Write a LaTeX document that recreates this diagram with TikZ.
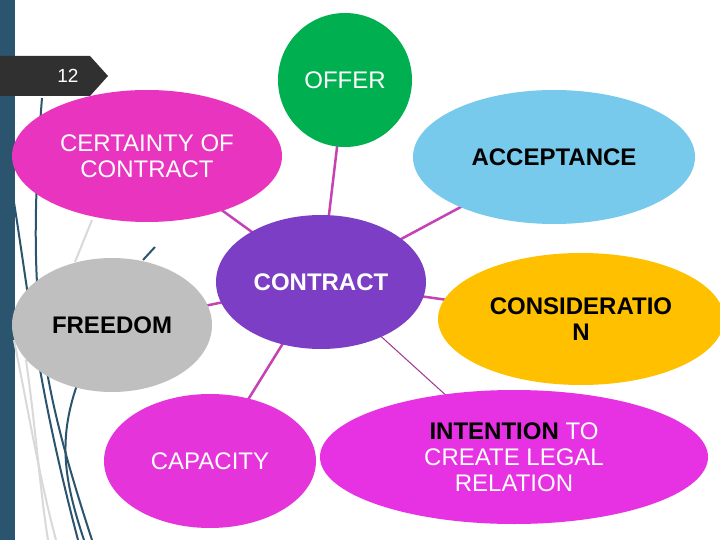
\documentclass[tikz,border=0pt]{standalone}
\usepackage{fontspec}
\setmainfont{Liberation Sans}
\usetikzlibrary{shapes.geometric,backgrounds}

\definecolor{slidebar}{RGB}{43,84,110}
\definecolor{tabgray}{RGB}{48,48,48}
\definecolor{offergreen}{RGB}{0,176,80}
\definecolor{certaintypink}{RGB}{232,52,190}
\definecolor{acceptblue}{RGB}{119,202,236}
\definecolor{contractpurple}{RGB}{124,62,196}
\definecolor{freedomgray}{RGB}{191,191,191}
\definecolor{considyellow}{RGB}{255,192,0}
\definecolor{capacitypink}{RGB}{229,52,218}
\definecolor{intentpink}{RGB}{230,50,226}
\definecolor{linkpink}{RGB}{196,66,180}

\tikzset{
  bubble/.style={ellipse, inner sep=0pt, align=center,
    font=\fontsize{24}{26}\selectfont},
  heavy/.style={bubble, font=\fontsize{24}{26}\selectfont\bfseries},
  link/.style={draw=linkpink, line width=2.5pt},
  swirl/.style={draw=slidebar, line width=2pt},
  faint/.style={draw=black!15, line width=2pt}
}

\begin{document}
\begin{tikzpicture}[x=1pt, y=-1pt]
  \useasboundingbox (0,0) rectangle (720,540);

  \node [bubble, fill=offergreen, minimum width=134pt, minimum height=134pt, text=white] (offer) at (345,80) {OFFER};
  \node [bubble, fill=certaintypink, minimum width=270pt, minimum height=132pt, text=white] (certainty) at (147,156) {CERTAINTY OF\\CONTRACT};
  \node [heavy, fill=acceptblue, minimum width=282pt, minimum height=134pt] (acceptance) at (554,157) {ACCEPTANCE};
  \node [heavy, fill=contractpurple, minimum width=210pt, minimum height=134pt, text=white] (contract) at (321,282) {CONTRACT};
  \node [heavy, fill=freedomgray, minimum width=200pt, minimum height=134pt] (freedom) at (112,325) {FREEDOM};
  \node [heavy, fill=considyellow, minimum width=286pt, minimum height=132pt] (consideration) at (581,319) {CONSIDERATIO\\N};
  \node [bubble, fill=capacitypink, minimum width=212pt, minimum height=134pt, text=white] (capacity) at (210,461) {CAPACITY};
  \node [bubble, fill=intentpink, minimum width=388pt, minimum height=134pt, text=white] (intention) at (514,457) {\textcolor{black}{\textbf{INTENTION}} TO\\CREATE LEGAL\\RELATION};

  \begin{pgfonlayer}{background}
    \fill [white] (0,0) rectangle (720,540);
    \fill [slidebar] (0,0) rectangle (15,540);
    % theme swirls
    \draw [faint] (14,340) .. controls (30,420) and (40,480) .. (56,540);
    \draw [faint] (26,360) .. controls (36,430) and (40,490) .. (48,540);
    \draw [faint] (92,220) -- (75,262);
    \draw [swirl] (42,98) .. controls (26,300) and (40,380) .. (92,540);
    \draw [swirl] (12,190) .. controls (30,300) and (36,380) .. (78,540);
    \draw [swirl] (77,385) .. controls (58,440) and (64,480) .. (84,540);
    \draw [swirl] (143,260) -- (155,247);

    \draw [link] (contract.center) -- (offer.center);
    \draw [link] (contract.center) -- (certainty.center);
    \draw [link] (contract.center) -- (acceptance.center);
    \draw [link] (contract.center) -- (freedom.center);
    \draw [link] (contract.center) -- (consideration.center);
    \draw [link] (contract.center) -- (capacity.center);
    \draw [draw=linkpink!80!black, line width=1pt] (contract.center) -- (intention.center);
  \end{pgfonlayer}

  \fill [tabgray] (0,56) -- (90,56) -- (108,76) -- (90,96) -- (0,96) -- cycle;
  \node [text=white, font=\fontsize{19}{20}\selectfont] (pagenum) at (68,76) {12};
\end{tikzpicture}
\end{document}
